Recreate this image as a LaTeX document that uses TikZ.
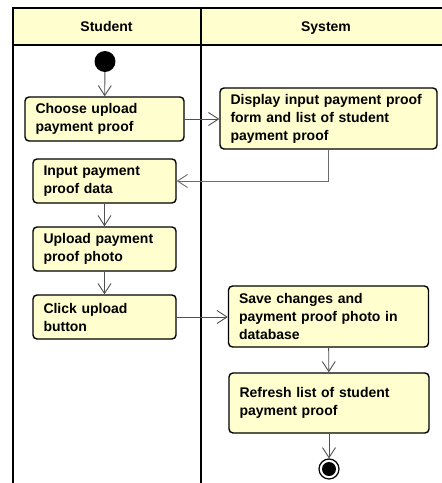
\documentclass[tikz,border=0pt]{standalone}
\usepackage{fontspec}
\setmainfont{Liberation Sans}
\usetikzlibrary{arrows.meta}
\definecolor{boxfill}{HTML}{FEFECE}
\definecolor{lineclr}{HTML}{383838}
\definecolor{flowclr}{HTML}{505050}
\tikzset{
  act/.style={draw=black, fill=boxfill, line width=1.4pt, rounded corners=4pt,
    align=left, inner xsep=10.5pt, inner ysep=0pt, font=\fontsize{14}{18}\selectfont\bfseries},
  flow/.style={draw=flowclr, line width=0.9pt, -{Straight Barb[length=10pt,width=13pt,line width=0.9pt]}},
  lane/.style={draw=black, line width=2pt},
  hdr/.style={font=\fontsize{14}{17}\selectfont\bfseries, text height=10pt, text depth=3pt, inner sep=0pt}
}
\begin{document}
\begin{tikzpicture}[x=1pt,y=-1pt]
\useasboundingbox (0,0) rectangle (442,483);
% swimlanes
\fill[boxfill] (12.5,7.5) rectangle (445,44.5);
\draw[lane] (445,7.5) -- (12.5,7.5) -- (12.5,490);
\draw[lane] (12.5,44.5) -- (445,44.5);
\draw[lane] (201,7.5) -- (201,490);
\node[hdr] (h1) at (106.5,28) {Student};
\node[hdr] (h2) at (326,28) {System};
% start
\node[circle, fill=black, minimum size=21pt, inner sep=0pt] (start) at (105,61.5) {};
% activities
\node[act, text width=138pt, minimum height=44pt] (b1) at (104.5,119) {Choose upload\\payment proof};
\node[act, text width=196pt, minimum height=61pt] (b2) at (328.5,118.5) {Display input payment proof\\form and list of student\\payment proof};
\node[act, text width=122pt, minimum height=44pt] (b3) at (104.5,181) {Input payment\\proof data};
\node[act, text width=122pt, minimum height=44pt] (b4) at (104.5,249) {Upload payment\\proof photo};
\node[act, text width=122pt, minimum height=44pt] (b5) at (104.5,317) {Click upload\\button};
\node[act, text width=179pt, minimum height=61pt] (b6) at (328.5,316.5) {Save changes and\\payment proof photo in\\database};
\node[act, text width=179pt, minimum height=60pt] (b7) at (329,403) {Refresh list of student\\payment proof};
% end
\node[circle, draw=black, line width=1.2pt, fill=white, minimum size=20pt, inner sep=0pt] (end) at (329,469) {};
\fill[black] (end.center) circle (7pt);
% flows
\draw[flow] (start) -- (b1);
\draw[flow] (b1.east) -- (b1.east -| b2.west);
\draw[flow, draw=gray!85!black] (b2.south) |- (b3.east);
\draw[flow] (b3) -- (b4);
\draw[flow] (b4) -- (b5);
\draw[flow] (b5.east) -- (b5.east -| b6.west);
\draw[flow] (b6) -- (b7);
\draw[flow] (b7) -- (end);
\end{tikzpicture}
\end{document}
